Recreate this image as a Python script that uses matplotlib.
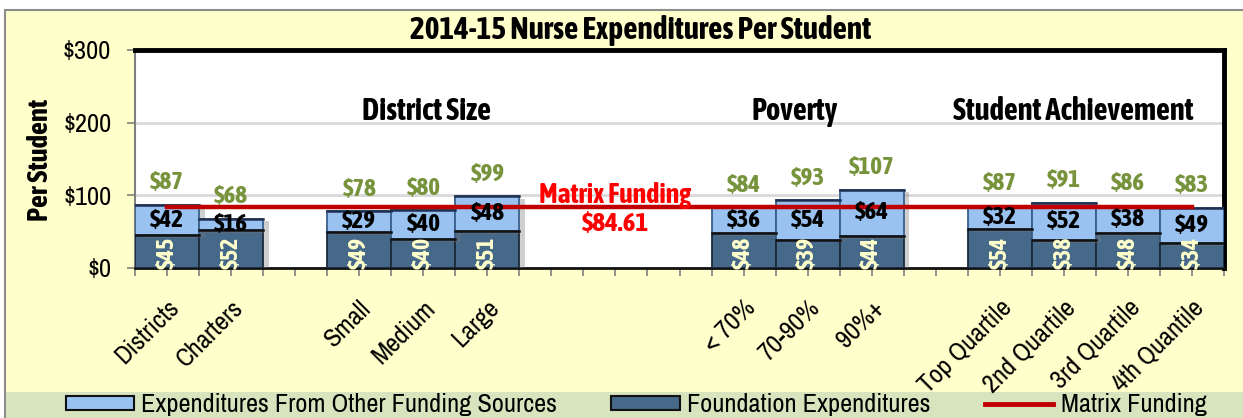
import matplotlib
matplotlib.use("Agg")
import matplotlib.pyplot as plt
from matplotlib.patches import Rectangle, Patch
from matplotlib.lines import Line2D
import matplotlib.patheffects as pe
import numpy as np

REG = ['Archivo Narrow', 'Liberation Sans', 'DejaVu Sans']
BOLD = ['Asap Condensed', 'Liberation Sans', 'DejaVu Sans']
plt.rcParams['font.family'] = REG

categories = ["Districts", "Charters", "", "Small", "Medium", "Large", "", "", "",
              "< 70%", "70-90%", "90%+", "", "Top Quartile", "2nd Quartile",
              "3rd Quartile", "4th Quantile"]
foundation = [45, 52, None, 49, 40, 51, None, None, None, 48, 39, 44, None, 54, 38, 48, 34]
other = [42, 16, None, 29, 40, 48, None, None, None, 36, 54, 64, None, 32, 52, 38, 49]
totals = [87, 68, None, 78, 80, 99, None, None, None, 84, 93, 107, None, 87, 91, 86, 83]
matrix_funding = 84.61
group_labels = ["District Size", "Poverty", "Student Achievement"]
group_pos = [4.05, 9.8, 14.15]
title = "2014-15 Nurse Expenditures Per Student"

W, H = 1243, 418
fig = plt.figure(figsize=(W / 100, H / 100), dpi=100, facecolor="white")

# chart area background and legend band
fig.patches.append(Rectangle((5 / W, -0.01), 1.05, 1 - 10 / H + 0.01, transform=fig.transFigure,
                             facecolor="#FFFFCC", edgecolor="#8C8C8C", linewidth=1.5, zorder=-3))
fig.patches.append(Rectangle((6 / W, 0), 1.0, 26 / H, transform=fig.transFigure,
                             facecolor="#D7E4BD", edgecolor="none", zorder=-2))

ax = fig.add_axes([135 / W, 1 - 268 / H, (1224 - 135) / W, (268 - 50) / H])
ax.set_facecolor("white")

x = np.arange(len(categories))
idx = [i for i in range(len(categories)) if foundation[i] is not None]
f_vals = np.array([foundation[i] for i in idx], dtype=float)
o_vals = np.array([other[i] for i in idx], dtype=float)

light = "#99C2F0"
dark = "#46698A"
shadow = [pe.SimplePatchShadow(offset=(4, -2), shadow_rgbFace="#777777", alpha=0.35), pe.Normal()]

b1 = ax.bar(x[idx], f_vals, width=1.0, color=dark, edgecolor="#1A2A3A", linewidth=1.3, zorder=3)
b2 = ax.bar(x[idx], o_vals, bottom=f_vals, width=1.0, color=light, edgecolor="#3A5F8A",
            linewidth=1.3, zorder=3)
for r in list(b1) + list(b2):
    r.set_path_effects(shadow)
# dark top edges on segments
for i, f, o in zip(x[idx], f_vals, o_vals):
    ax.plot([i - 0.5, i + 0.5], [f, f], color="#111111", lw=1.8, zorder=3.5)
    ax.plot([i - 0.5, i + 0.5], [f + o, f + o], color="#1F2F4F", lw=1.8, zorder=3.5)

# matrix funding line
ax.plot([x[0], x[-1]], [matrix_funding, matrix_funding], color="#C00000", lw=3.2, zorder=4)

# labels
for k, i in enumerate(idx):
    f, o = f_vals[k], o_vals[k]
    ax.text(i, -1, f"${int(f)}", rotation=90, ha="center", va="bottom", color="#FFFFCC",
            fontsize=17, fontweight="bold", family=BOLD, zorder=5)
    ax.text(i, f + o / 2, f"${int(o)}", ha="center", va="center", color="black",
            fontsize=18, fontweight="bold", family=BOLD, zorder=5)
    ax.text(i, f + o + 30, f"${totals[i]}", ha="center", va="center", color="#77933C",
            fontsize=18, fontweight="bold", family=BOLD, zorder=5)

for g, p in zip(group_labels, group_pos):
    ax.text(p, 215, g, ha="center", va="center", fontsize=22, fontweight="bold", family=BOLD,
            zorder=5)

ax.text(7.0, 100, "Matrix Funding", ha="center", va="center", color="#FF0000",
        fontsize=20, fontweight="bold", family=BOLD, zorder=5)
ax.text(7.0, 61.5, f"${matrix_funding:.2f}", ha="center", va="center", color="#FF0000",
        fontsize=19.5, fontweight="bold", family=BOLD, zorder=5)

ax.set_xlim(-0.5, len(categories) - 0.5)
ax.set_ylim(0, 300)
ax.set_yticks([0, 100, 200, 300])
ax.set_yticklabels(["$0", "$100", "$200", "$300"], fontsize=19)
ax.yaxis.grid(True, color="#D9D9D9", lw=2, zorder=0)
ax.set_axisbelow(True)

ax.set_xticks(x)
ax.set_xticklabels(categories, rotation=45, ha="right", va="top", rotation_mode="anchor",
                   fontsize=19)
ax.set_xticks(np.arange(-0.5, len(categories), 1.0), minor=True)
ax.tick_params(axis="x", which="both", direction="out", length=6, color="#808080", width=1.2, pad=14)
ax.tick_params(axis="y", direction="out", length=6, color="#808080", width=1.2, pad=11)

for s in ["top", "right"]:
    ax.spines[s].set_color("black")
    ax.spines[s].set_linewidth(3.5)
ax.spines["left"].set_color("#808080")
ax.spines["left"].set_linewidth(1.5)
ax.spines["bottom"].set_color("#111111")
ax.spines["bottom"].set_linewidth(2.0)

fig.text(40 / W, 1 - 160 / H, "Per Student", rotation=90, ha="center", va="center",
         fontsize=20.5, fontweight="bold", family=BOLD)
fig.text(641 / W, 1 - 30 / H, title, ha="center", va="center", fontsize=22.5, fontweight="bold",
         family=BOLD)

handles = [Patch(facecolor=light, edgecolor="#111111", linewidth=1.5),
           Patch(facecolor=dark, edgecolor="#111111", linewidth=1.5),
           Line2D([0], [0], color="#C00000", lw=3.5)]
labels = ["Expenditures From Other Funding Sources", "Foundation Expenditures", "Matrix Funding"]
fig.legend(handles, labels, loc="center", bbox_to_anchor=(636 / W, 1 - 405 / H), ncol=3,
           frameon=False, fontsize=19, handlelength=2.6, handleheight=0.45, handletextpad=0.27,
           columnspacing=2.05, borderpad=0)

fig.savefig("out.png", dpi=100, facecolor=fig.get_facecolor())
